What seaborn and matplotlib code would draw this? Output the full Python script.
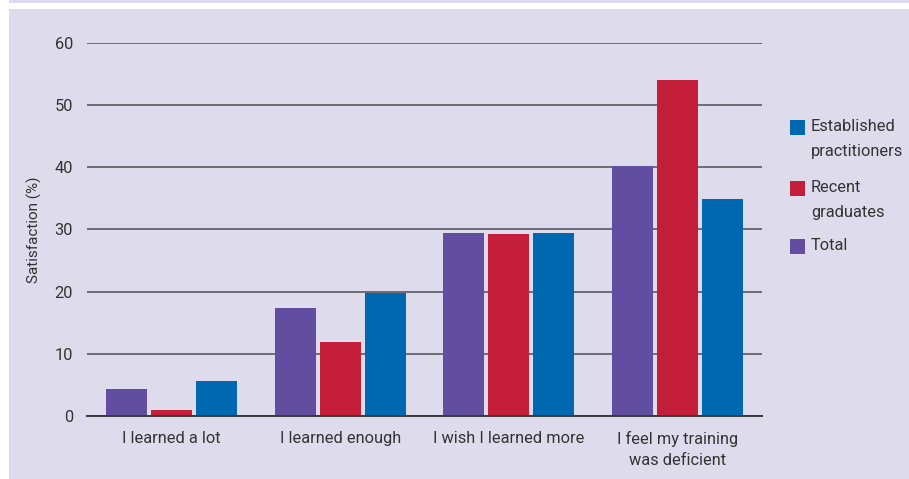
import matplotlib
matplotlib.use("Agg")
import matplotlib.pyplot as plt
from matplotlib.patches import Rectangle
import pandas as pd
import seaborn as sns

# Survey answers and the share of respondents (%) in each group
categories = [
    "I learned a lot",
    "I learned enough",
    "I wish I learned more",
    "I feel my training\nwas deficient",
]
total = [4.3, 17.3, 29.4, 40.2]
recent_graduates = [0.9, 11.9, 29.3, 54.1]
established_practitioners = [5.6, 19.8, 29.4, 34.9]

series_names = ["Total", "Recent graduates", "Established practitioners"]
legend_labels = ["Established\npractitioners", "Recent\ngraduates", "Total"]
y_ticks = [0, 10, 20, 30, 40, 50, 60]

colors = {
    "Total": "#624ea0",
    "Recent graduates": "#c41e3b",
    "Established practitioners": "#0068b0",
}
panel_color = "#dedbec"
text_color = "#333333"

rows = []
for name, values in zip(series_names, [total, recent_graduates, established_practitioners]):
    for cat, v in zip(categories, values):
        rows.append({"category": cat, "series": name, "value": v})
df = pd.DataFrame(rows)

sns.set_theme(style="white")
plt.rcParams["font.family"] = ["Roboto", "DejaVu Sans"]

W, H = 909, 479
fig = plt.figure(figsize=(W / 100, H / 100), dpi=100, facecolor="white")

# lavender panel with a thin strip above the white band at the top
fig.patches.append(Rectangle((9 / W, 0), 1, (H - 9) / H, transform=fig.transFigure,
                             facecolor=panel_color, edgecolor="none", zorder=-10))
fig.patches.append(Rectangle((9 / W, (H - 3) / H), 1, 3 / H, transform=fig.transFigure,
                             facecolor=panel_color, edgecolor="none", zorder=-10))

y0_px, y60_px = 415.7, 43.1
ax = fig.add_axes([87 / W, (H - y0_px) / H, 675 / W, (y0_px - y60_px) / H])
ax.set_facecolor("none")

sns.barplot(
    data=df, x="category", y="value", hue="series",
    order=categories, hue_order=series_names, palette=colors,
    width=0.8, gap=0.09, saturation=1, linewidth=0, legend=False, ax=ax, zorder=3,
)

ax.set_xlim(-0.5, len(categories) - 0.5)
ax.set_ylim(0, 60)
ax.set_yticks(y_ticks)
ax.yaxis.grid(True, color="#4f4d55", linewidth=1.1, zorder=0)
ax.set_axisbelow(True)

for side in ["left", "right", "top"]:
    ax.spines[side].set_visible(False)
ax.spines["bottom"].set_color("#3a383d")
ax.spines["bottom"].set_linewidth(1.4)
ax.spines["bottom"].set_zorder(4)

ax.tick_params(axis="y", length=0, pad=10, labelsize=11.8, labelcolor=text_color)
ax.tick_params(axis="x", which="major", length=0, pad=11, labelsize=11.8, labelcolor=text_color)
ax.set_xticks([i - 0.5 for i in range(len(categories) + 1)], minor=True)
ax.tick_params(axis="x", which="minor", direction="in", length=6.5, width=1.4, color="#3a383d")
for lbl in ax.get_xticklabels():
    lbl.set_linespacing(1.5)

ax.set_xlabel("")
ax.set_ylabel("Satisfaction (%)", fontsize=11, color=text_color, labelpad=9)

# legend: colour squares with two-line labels on the right
legend_colors = [colors["Established practitioners"], colors["Recent graduates"], colors["Total"]]
square_tops = [120, 181, 239]
for label, col, top in zip(legend_labels, legend_colors, square_tops):
    fig.patches.append(Rectangle((790 / W, (H - top - 15) / H), 15 / W, 15 / H,
                                 transform=fig.transFigure, facecolor=col, edgecolor="none"))
    fig.text(811 / W, (H - top + 1) / H, label, ha="left", va="top",
             fontsize=11.8, color=text_color, linespacing=1.8)

fig.savefig("out.png", dpi=100, facecolor=fig.get_facecolor())
